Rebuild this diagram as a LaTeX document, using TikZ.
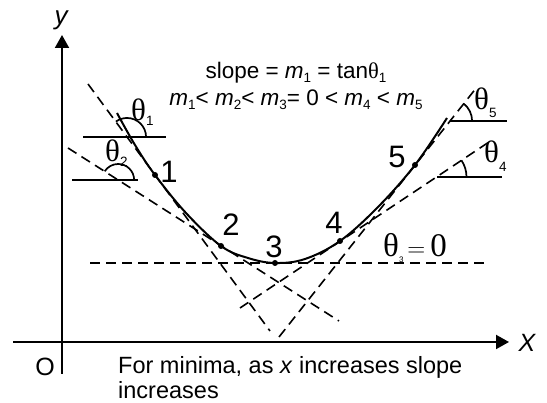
\documentclass[tikz,border=0pt]{standalone}
\usepackage{fontspec}
\setmainfont{Liberation Sans}
\newfontfamily\serf{Liberation Serif}
\usetikzlibrary{arrows.meta}
\newcommand{\thsub}[2][5pt]{{\fontsize{31}{31}\selectfont\serf θ}\raisebox{-#1}{\fontsize{13.5}{13.5}\selectfont #2}}
\newcommand{\msub}[1]{\raisebox{-4pt}{\fontsize{13.5}{13.5}\selectfont #1}}

\begin{document}
\begin{tikzpicture}[x=1pt,y=1pt,>=latex,
      ax/.style={line width=2pt,-{Triangle[length=13pt,width=14pt]}},
      tan/.style={line width=1.6pt,dash pattern=on 10pt off 6pt},
      href/.style={line width=1.9pt},
      ang/.style={line width=1.7pt},
      dot/.style={circle,fill,inner sep=0pt,minimum size=6pt},
      num/.style={font=\fontsize{31}{31}\selectfont,inner sep=0pt},
      lab/.style={anchor=base west,inner sep=0pt}]
    \useasboundingbox (0,0) rectangle (547,403);
    % axes
    \coordinate (xs) at (13,61);  \coordinate (xe) at (509,61);
    \coordinate (ys) at (62,29);  \coordinate (ye) at (62,368);
    \draw[ax] (xs) -- (xe);
    \draw[ax] (ys) -- (ye);
    \node[font=\fontsize{25}{25}\selectfont\itshape,inner sep=0pt] (xlab) at (527,60) {X};
    \node[font=\fontsize{26}{26}\selectfont\itshape,inner sep=0pt] (ylab) at (61,383) {y};
    \node[font=\fontsize{25}{25}\selectfont,inner sep=0pt] (olab) at (45,36) {O};
    % the curve and its points
    \draw[line width=2pt] plot[smooth,tension=0.6] coordinates {(117,290) (135,258) (155,228) (186,190) (221,157)
        (248,145) (275,140) (305,144) (340,162) (378,196) (415,238) (447,285)};
    \node[dot] (p1) at (155,228) {};
    \node[dot] (p2) at (221,157) {};
    \node[dot] (p3) at (275,140) {};
    \node[dot] (p4) at (340,162) {};
    \node[dot] (p5) at (415,238) {};
    \node[num] (n1) at (169,231) {1};
    \node[num] (n2) at (231,178) {2};
    \node[num] (n3) at (274,156) {3};
    \node[num] (n4) at (334,180) {4};
    \node[num] (n5) at (397,246) {5};
    % tangents
    \coordinate (t1a) at (88,319);  \coordinate (t1b) at (270,72);
    \coordinate (t2a) at (68,255);  \coordinate (t2b) at (339,82);
    \coordinate (t3a) at (90,140);  \coordinate (t3b) at (485,140);
    \coordinate (t4a) at (240,95);  \coordinate (t4b) at (492,263);
    \coordinate (t5a) at (279,66);  \coordinate (t5b) at (477,316);
    \foreach \t in {1,...,5} \draw[tan] (t\t a) -- (t\t b);
    % horizontal references and angles
    \coordinate (h1a) at (83,266);  \coordinate (h1b) at (166,266);
    \coordinate (h2a) at (72,223);  \coordinate (h2b) at (138,223);
    \coordinate (h4a) at (437,226); \coordinate (h4b) at (502,226);
    \coordinate (h5a) at (450,282); \coordinate (h5b) at (507,282);
    \foreach \h in {1,2,4,5} {
      \draw[href] (h\h a) -- (h\h b);
      \coordinate (v\h) at (intersection of t\h a--t\h b and h\h a--h\h b);
    }
    \draw[ang] ([shift={(19,0)}]v1) arc[start angle=0,end angle=126,radius=19];
    \draw[ang] ([shift={(16,0)}]v2) arc[start angle=0,end angle=147,radius=16];
    \draw[ang] ([shift={(30,0)}]v4) arc[start angle=0,end angle=34,radius=30];
    \draw[ang] ([shift={(22,0)}]v5) arc[start angle=0,end angle=52,radius=22];
    \node[lab] (th1) at (131,282) {\thsub{1}};
    \node[lab] (th2) at (105,241) {\thsub{2}};
    \node[lab] (th4) at (484,240) {\thsub[9pt]{4}};
    \node[lab] (th5) at (474,293) {\thsub[8pt]{5}};
    \node[lab,font=\fontsize{33}{33}\selectfont] (th3) at (383,146)
      {{\serf θ}\raisebox{-6pt}{\fontsize{8}{8}\selectfont 3}\hspace{4pt}$=$\hspace{5pt}{\serf 0}};
    % texts
    \node[font=\fontsize{22.5}{22.5}\selectfont,inner sep=0pt,anchor=base] (title1) at (296,324)
      {slope = \textit{m}\msub{1} = tan{\serf θ}\msub{1}};
    \node[font=\fontsize{22.5}{22.5}\selectfont,inner sep=0pt,anchor=base] (title2) at (296,297)
      {\textit{m}\msub{1}< \textit{m}\msub{2}< \textit{m}\msub{3}= 0 < \textit{m}\msub{4} < \textit{m}\msub{5}};
    \node[font=\fontsize{23.5}{23.5}\selectfont,lab] (note1) at (118,29) {For minima, as \textit{x} increases slope};
    \node[font=\fontsize{23.5}{23.5}\selectfont,lab] (note2) at (118,4) {increases};
  \end{tikzpicture}
\end{document}
